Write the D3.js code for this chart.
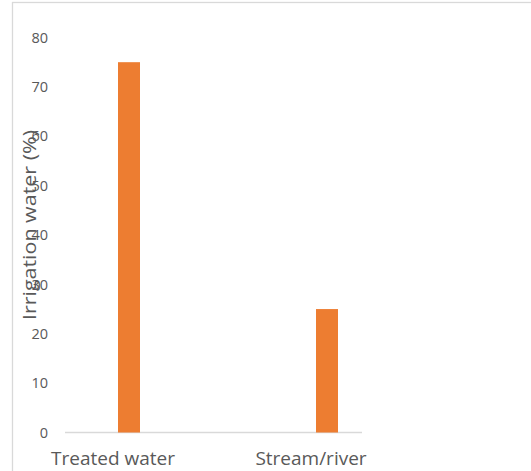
<!DOCTYPE html>
<html>
<head>
<meta charset="utf-8">
<script src="https://cdn.jsdelivr.net/npm/d3@7"></script>
<style>
  body { margin: 0; background: #fff; }
  svg { display: block; }
</style>
</head>
<body>
<div id="chart"></div>
<script>
/* Chart data */
const categories = ["Treated water", "Stream/river"];
const values = [75, 25];
const yTicks = [0, 10, 20, 30, 40, 50, 60, 70, 80];

window.addEventListener("DOMContentLoaded", main)

function main() {
    const W = 531;
    const H = 471;
    const barColor = "#ED7D31";
    const gridColor = "#D9D9D9";
    const textColor = "#595959";

    const svg = d3.select("#chart").append("svg").attr("width", W).attr("height", H)

    /* Chart frame (cropped on right and bottom) */
    svg.append("rect")
        .attr("x", 12.5).attr("y", 2.5)
        .attr("width", W + 20).attr("height", H + 20)
        .attr("fill", "none")
        .attr("stroke", gridColor)
        .attr("stroke-width", 1.3)

    /* Scales */
    const yScale = d3.scaleLinear().domain([0, 80]).range([432.5, 37.5]);
    const xScale = d3.scalePoint().domain(categories).range([129, 327]);
    const barWidth = 22;

    /* Y axis labels */
    const yAxis = d3.axisLeft(yScale).tickValues(yTicks).tickSize(0).tickPadding(0);
    const gy = svg.append("g")
        .attr("transform", "translate(48,0)")
        .call(yAxis);
    gy.select(".domain").remove();
    gy.selectAll("text")
        .attr("fill", textColor)
        .style("font-family", "'Open Sans', sans-serif")
        .style("font-size", "14.5px");

    /* Category axis line */
    svg.append("line")
        .attr("x1", 65).attr("x2", 362)
        .attr("y1", yScale(0)).attr("y2", yScale(0))
        .attr("stroke", gridColor)
        .attr("stroke-width", 1.3);

    /* Bars */
    svg.selectAll(".bar")
        .data(values)
        .enter()
        .append("rect")
        .attr("class", "bar")
        .attr("x", (d, i) => xScale(categories[i]) - barWidth / 2)
        .attr("y", d => yScale(d))
        .attr("width", barWidth)
        .attr("height", d => yScale(0) - yScale(d))
        .attr("fill", barColor);

    /* Category labels */
    svg.selectAll(".cat")
        .data(categories)
        .enter()
        .append("text")
        .attr("class", "cat")
        .attr("x", d => xScale(d) - 16)
        .attr("y", 465)
        .attr("text-anchor", "middle")
        .attr("fill", textColor)
        .style("font-family", "'Open Sans', sans-serif")
        .style("font-size", "19px")
        .text(d => d);

    /* Y axis title */
    svg.append("text")
        .attr("transform", "translate(36,225) rotate(-90)")
        .attr("text-anchor", "middle")
        .attr("fill", textColor)
        .attr("textLength", 190)
        .attr("lengthAdjust", "spacingAndGlyphs")
        .style("font-family", "'Open Sans', sans-serif")
        .style("font-size", "18px")
        .text("Irrigation water (%)");
}
</script>
</body>
</html>
